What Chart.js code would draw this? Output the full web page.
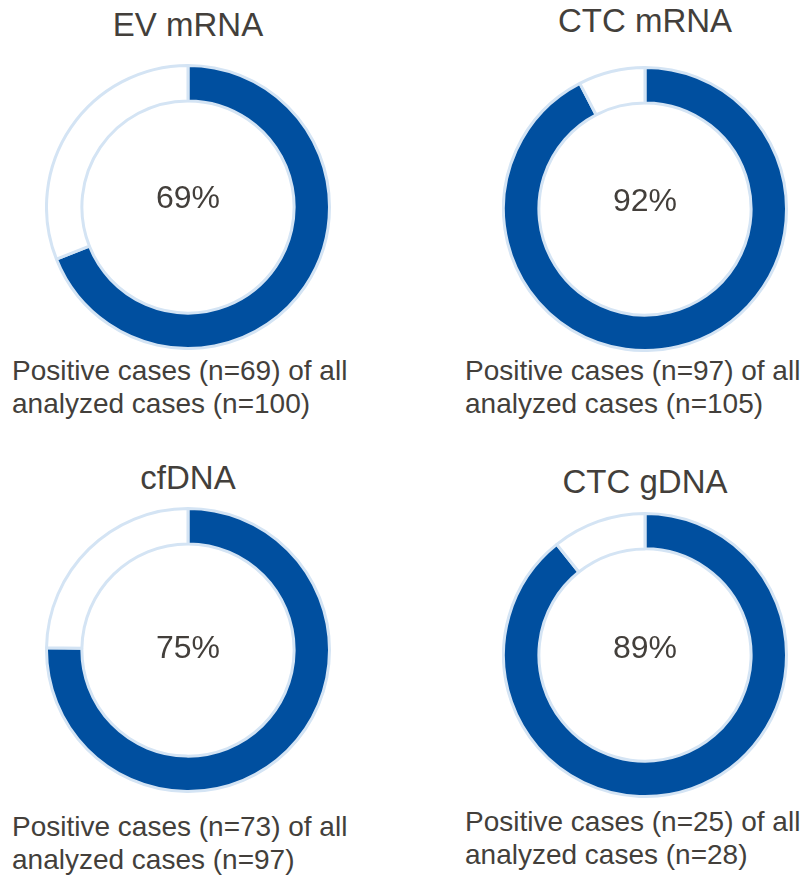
<!DOCTYPE html>
<html>
<head>
<meta charset="utf-8">
<title>Detection rates</title>
<script src="https://cdn.jsdelivr.net/npm/chart.js@4.4.1/dist/chart.umd.min.js"></script>
<style>
  html, body { margin: 0; padding: 0; background: #fff; }
  #wrap { position: relative; width: 805px; height: 875px; overflow: hidden; }
  #wrap canvas { position: absolute; }
  .txt {
    position: absolute;
    font-family: "Liberation Sans", Arial, sans-serif;
    color: #433f3b;
    white-space: nowrap;
  }
  .title { font-size: 33px; line-height: 33px; transform: translateX(-50%); }
  .pct { font-size: 32px; line-height: 32px; transform: translateX(-50%); }
  .cap { font-size: 28px; line-height: 33px; }
</style>
</head>
<body>
<div id="wrap"></div>
<script>
  // Positive / analysed case counts per marker.
  var markers = ['EV mRNA', 'CTC mRNA', 'cfDNA', 'CTC gDNA'];
  var positive = [69, 97, 73, 25];
  var analyzed = [100, 105, 97, 28];

  // Panel placement: ring centre, title/percent/caption positions.
  var panels = [
    { cx: 188, cy: 207, titleTop: 8,   pctTop: 181, capLeft: 12,  capTop: 354 },
    { cx: 645, cy: 209, titleTop: 4,   pctTop: 184, capLeft: 465, capTop: 354 },
    { cx: 188, cy: 650, titleTop: 461, pctTop: 631, capLeft: 12,  capTop: 810 },
    { cx: 645, cy: 655, titleTop: 465, pctTop: 631, capLeft: 465, capTop: 805 }
  ];

  var SIZE = 286;
  var BLUE = '#004f9f';
  var RING_BORDER = '#d4e4f4';

  var wrap = document.getElementById('wrap');

  function addText(cls, html, left, top) {
    var d = document.createElement('div');
    d.className = 'txt ' + cls;
    d.innerHTML = html;
    d.style.left = left + 'px';
    d.style.top = top + 'px';
    wrap.appendChild(d);
  }

  markers.forEach(function (name, i) {
    var p = panels[i];
    var pos = positive[i];
    var total = analyzed[i];
    var pct = Math.round(pos / total * 100);

    var cv = document.createElement('canvas');
    cv.width = SIZE;
    cv.height = SIZE;
    cv.style.width = SIZE + 'px';
    cv.style.height = SIZE + 'px';
    cv.style.left = (p.cx - SIZE / 2) + 'px';
    cv.style.top = (p.cy - SIZE / 2) + 'px';
    wrap.appendChild(cv);

    new Chart(cv, {
      type: 'doughnut',
      data: {
        labels: ['Positive', 'Negative'],
        datasets: [{
          data: [pos, total - pos],
          backgroundColor: [BLUE, '#ffffff'],
          borderColor: RING_BORDER,
          borderWidth: 3
        }]
      },
      options: {
        responsive: false,
        animation: false,
        cutout: '75%',
        layout: { padding: 0 },
        events: [],
        plugins: {
          legend: { display: false },
          tooltip: { enabled: false }
        }
      }
    });

    addText('title', name, p.cx, p.titleTop);
    addText('pct', pct + '%', p.cx, p.pctTop);
    addText('cap', 'Positive cases (n=' + pos + ') of all<br>analyzed cases (n=' + total + ')', p.capLeft, p.capTop);
  });
</script>
</body>
</html>
